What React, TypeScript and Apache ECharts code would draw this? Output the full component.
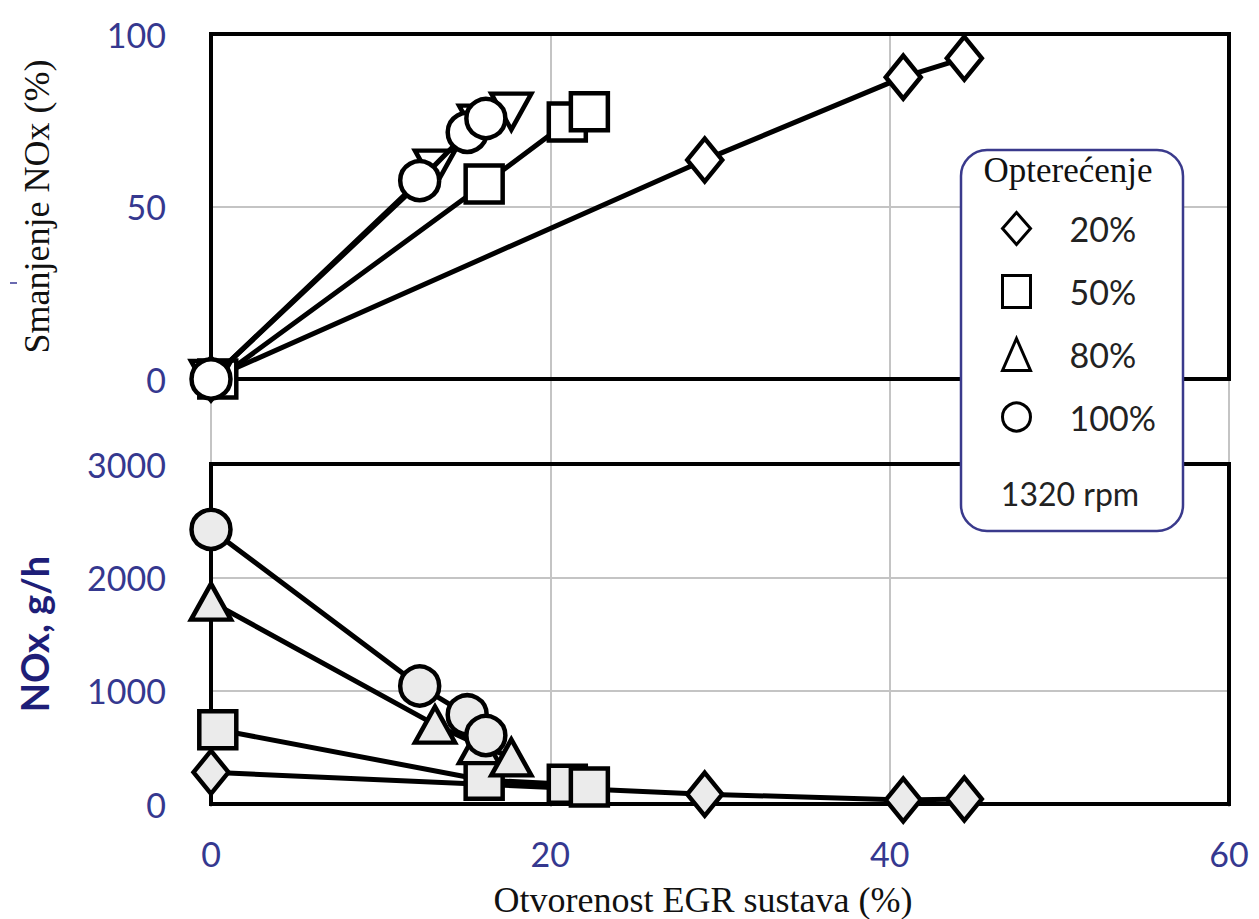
import React, { useEffect, useRef } from "react";
import * as echarts from "echarts";

// ---- data ----
const loads = ["20%", "50%", "80%", "100%"];
const symbols = ["diamond", "rect", "triangle", "circle"];
const xTicks = [0, 20, 40, 60];

const egr20 = [0, 29.1, 40.8, 44.4];
const red20 = [0, 63.5, 87.5, 93];
const nox20 = [280, 87, 35, 44];

const egr50 = [0.4, 16.1, 21.0, 22.3];
const red50 = [0, 56.5, 74.5, 77.5];
const nox50 = [656, 210, 175, 149];

const egr80 = [0, 13.2, 15.8, 17.7];
const red80 = [0, 61, 74, 77.5];
const nox80 = [1785, 700, 520, 411];

const egr100 = [0, 12.3, 15.1, 16.2];
const red100 = [0, 57.5, 71.5, 75.5];
const nox100 = [2423, 1041, 787, 604];

const egrAll = [egr20, egr50, egr80, egr100];
const redAll = [red20, red50, red80, red100];
const noxAll = [nox20, nox50, nox80, nox100];

const BLUE = "#35388f";
const GRAY = "#c4c4c4";
const symbolSizes: any[] = [[35, 43], [37, 37], [40, 36], [39, 39]];

export default function App() {
  const ref = useRef<HTMLDivElement>(null);
  useEffect(() => {
    if (!ref.current) return;
    const chart = echarts.init(ref.current, null, { renderer: "svg" });
    const gridL = 211;
    const gridW = 1018;
    const tickLabel = { fontFamily: "Lato", fontSize: 34, color: BLUE, formatter: (v: number) => String(v) };

    const series: any[] = [];
    loads.forEach((name, i) => {
      series.push({
        name,
        type: "line",
        xAxisIndex: 0,
        yAxisIndex: 0,
        data: egrAll[i].map((x, k) => [x, redAll[i][k]]),
        symbol: symbols[i],
        symbolSize: symbolSizes[i],
        symbolRotate: i === 2 ? 180 : 0,
        showAllSymbol: true,
        clip: false,
        lineStyle: { color: "#000", width: 5 },
        itemStyle: { color: "#fff", borderColor: "#000", borderWidth: 4.5 },
        z: 3 + i,
      });
      series.push({
        name,
        type: "line",
        xAxisIndex: 1,
        yAxisIndex: 1,
        data: egrAll[i].map((x, k) => [x, noxAll[i][k]]),
        symbol: symbols[i],
        symbolSize: symbolSizes[i],
        showAllSymbol: true,
        clip: false,
        lineStyle: { color: "#000", width: 5 },
        itemStyle: { color: "#ebebeb", borderColor: "#000", borderWidth: 4.5 },
        z: 3 + i,
      });
    });

    const xBase = (gridIndex: number, extra: any = {}) => ({
      type: "value",
      gridIndex,
      min: xTicks[0],
      max: xTicks[xTicks.length - 1],
      interval: 20,
      axisLine: { show: false },
      axisTick: { show: false },
      axisLabel: { show: false },
      splitLine: { show: false },
      ...extra,
    });

    chart.setOption({
      animation: false,
      backgroundColor: "#fff",
      grid: [
        { left: gridL, top: 34, width: gridW, height: 345, show: true, borderColor: "#000", borderWidth: 4, backgroundColor: "transparent", z: 2 },
        { left: gridL, top: 464, width: gridW, height: 343, show: true, borderColor: "#000", borderWidth: 4, backgroundColor: "transparent", z: 2 },
        { left: gridL, top: 34, width: gridW, height: 773, show: false, z: 0 },
      ],
      xAxis: [
        xBase(0),
        xBase(1, {
          axisLabel: { show: true, ...tickLabel, margin: 32 },
          name: "Otvorenost EGR sustava (%)",
          nameLocation: "middle",
          nameGap: 78,
          nameTextStyle: { fontFamily: "Liberation Serif", fontSize: 36, color: "#111", padding: [0, 34, 0, 0] },
        }),
        xBase(2, {
          splitLine: { show: true, lineStyle: { color: GRAY, width: 2 } },
          z: 0,
        }),
      ],
      yAxis: [
        {
          type: "value",
          gridIndex: 0,
          min: 0,
          max: 100,
          interval: 50,
          axisLine: { show: false },
          axisTick: { show: false },
          axisLabel: { ...tickLabel, margin: 45 },
          splitLine: { show: true, showMinLine: false, showMaxLine: false, lineStyle: { color: GRAY, width: 2 } },
          name: "Smanjenje NOx (%)",
          nameLocation: "middle",
          nameRotate: 90,
          nameGap: 156,
          nameTextStyle: { fontFamily: "Liberation Serif", fontSize: 36, color: "#111" },
        },
        {
          type: "value",
          gridIndex: 1,
          min: 0,
          max: 3000,
          interval: 1000,
          axisLine: { show: false },
          axisTick: { show: false },
          axisLabel: { ...tickLabel, margin: 45 },
          splitLine: { show: true, showMinLine: false, showMaxLine: false, lineStyle: { color: GRAY, width: 2 } },
          name: "NOx, g/h",
          nameLocation: "middle",
          nameRotate: 90,
          nameGap: 158,
          nameTextStyle: { fontFamily: "Lato", fontWeight: "bold", fontSize: 38, color: "#1e1e78" },
        },
        { type: "value", gridIndex: 2, min: 0, max: 1, show: false },
      ],
      legend: {
        orient: "vertical",
        left: 996,
        top: 206,
        itemWidth: 28,
        itemHeight: 32,
        itemGap: 28,
        selectedMode: false,
        data: loads.map((n, i) => ({ name: n, icon: symbols[i] })),
        itemStyle: { color: "#fff", borderColor: "#000", borderWidth: 3 },
        symbolRotate: 0,
        textStyle: { fontFamily: "Lato", fontSize: 34, color: "#222", padding: [0, 0, 0, 34] },
        z: 20,
      },
      graphic: [
        {
          type: "rect",
          shape: { x: 961, y: 150, width: 222, height: 381, r: 26 },
          style: { fill: "#fff", stroke: "#3a3a8c", lineWidth: 2.5 },
          z: 15,
        },
        {
          type: "text",
          x: 1068,
          y: 170,
          style: { text: "Opterećenje", font: "35px 'Liberation Serif'", fill: "#111", align: "center", verticalAlign: "middle" },
          z: 16,
        },
        {
          type: "text",
          x: 1070,
          y: 493,
          style: { text: "1320 rpm", font: "32px Lato", fill: "#222", align: "center", verticalAlign: "middle" },
          z: 16,
        },
        {
          type: "rect",
          shape: { x: 10, y: 282, width: 7, height: 2 },
          style: { fill: "#6a6ab0" },
        },
      ],
      series,
    });
    return () => chart.dispose();
  }, []);
  return <div ref={ref} style={{ position: "absolute", left: 0, top: 0, width: 1259, height: 919 }} />;
}
